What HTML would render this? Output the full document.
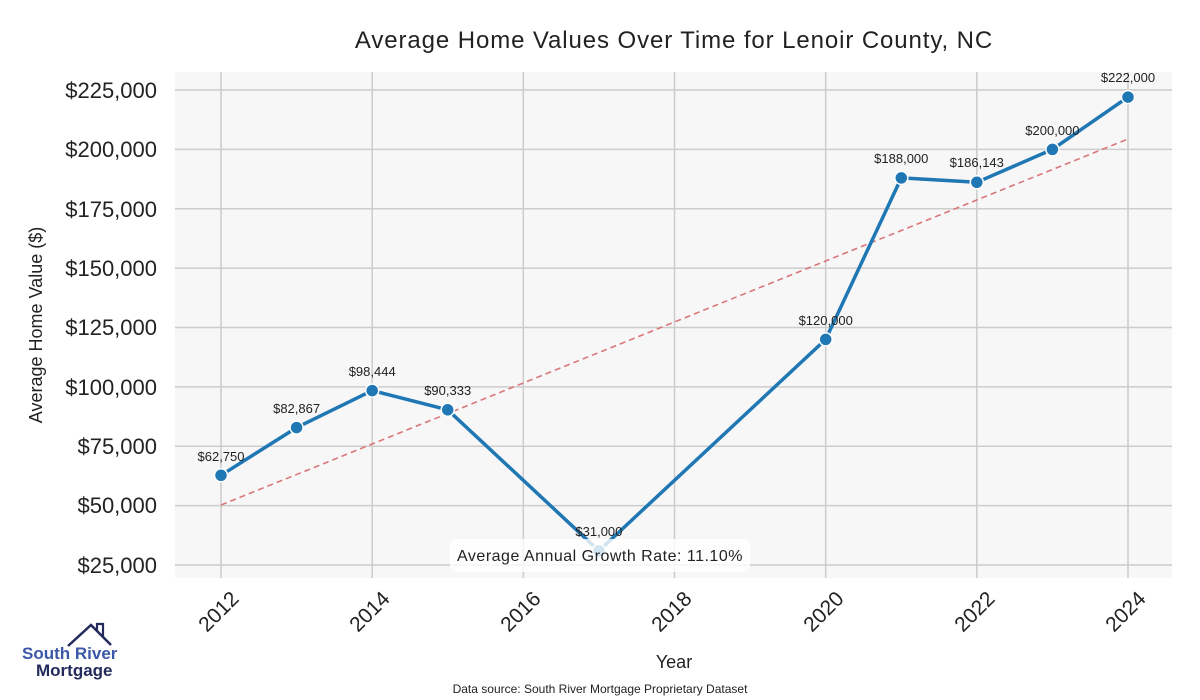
<!DOCTYPE html>
<html><head><meta charset="utf-8"><style>
html,body{margin:0;padding:0;background:#fff;}
svg{display:block;font-family:"Liberation Sans",sans-serif;}
</style></head><body>
<svg width="1200" height="700" viewBox="0 0 1200 700" xmlns="http://www.w3.org/2000/svg">
<rect x="0" y="0" width="1200" height="700" fill="#fff"/>
<text x="674" y="48" font-size="24" letter-spacing="0.9" fill="#222" text-anchor="middle">Average Home Values Over Time for Lenoir County, NC</text>
<rect x="175" y="72" width="997" height="506" fill="#f7f7f7"/>
<g stroke="#cccccc" stroke-width="1.5">
<line x1="175" x2="1172" y1="90" y2="90"/>
<line x1="175" x2="1172" y1="149.4" y2="149.4"/>
<line x1="175" x2="1172" y1="208.8" y2="208.8"/>
<line x1="175" x2="1172" y1="268.1" y2="268.1"/>
<line x1="175" x2="1172" y1="327.5" y2="327.5"/>
<line x1="175" x2="1172" y1="386.9" y2="386.9"/>
<line x1="175" x2="1172" y1="446.3" y2="446.3"/>
<line x1="175" x2="1172" y1="505.6" y2="505.6"/>
<line x1="175" x2="1172" y1="565" y2="565"/>
<line y1="72" y2="578" x1="221" x2="221"/>
<line y1="72" y2="578" x1="372.2" x2="372.2"/>
<line y1="72" y2="578" x1="523.3" x2="523.3"/>
<line y1="72" y2="578" x1="674.5" x2="674.5"/>
<line y1="72" y2="578" x1="825.7" x2="825.7"/>
<line y1="72" y2="578" x1="976.8" x2="976.8"/>
<line y1="72" y2="578" x1="1128" x2="1128"/>
</g>
<g font-size="22" fill="#222" text-anchor="end">
<text x="157" y="98">$225,000</text>
<text x="157" y="157">$200,000</text>
<text x="157" y="217">$175,000</text>
<text x="157" y="276">$150,000</text>
<text x="157" y="335">$125,000</text>
<text x="157" y="395">$100,000</text>
<text x="157" y="454">$75,000</text>
<text x="157" y="513">$50,000</text>
<text x="157" y="573">$25,000</text>
</g>
<g font-size="21" fill="#222" text-anchor="end">
<text transform="translate(240,600) rotate(-45)">2012</text>
<text transform="translate(391,600) rotate(-45)">2014</text>
<text transform="translate(542,600) rotate(-45)">2016</text>
<text transform="translate(693,600) rotate(-45)">2018</text>
<text transform="translate(845,600) rotate(-45)">2020</text>
<text transform="translate(996,600) rotate(-45)">2022</text>
<text transform="translate(1147,600) rotate(-45)">2024</text>
</g>
<text x="674" y="668" font-size="18" fill="#222" text-anchor="middle">Year</text>
<text transform="translate(42,325) rotate(-90)" font-size="18" fill="#222" text-anchor="middle">Average Home Value ($)</text>
<line x1="221" y1="505" x2="1128" y2="139" stroke="#d9777a" stroke-width="1.6" stroke-dasharray="6,4"/>
<polyline fill="none" stroke="#1f77b4" stroke-width="3.5" stroke-linejoin="round" points="221,475.3 296.6,427.6 372.2,390.6 447.7,409.8 598.9,550.8 825.7,339.4 901.3,177.9 976.8,182.3 1052.4,149.4 1128,97.1"/>
<g fill="#1f77b4" stroke="#fff" stroke-width="1.5">
<circle cx="221" cy="475.3" r="6.5"/><circle cx="296.6" cy="427.6" r="6.5"/><circle cx="372.2" cy="390.6" r="6.5"/><circle cx="447.7" cy="409.8" r="6.5"/><circle cx="598.9" cy="550.8" r="6.5"/><circle cx="825.7" cy="339.4" r="6.5"/><circle cx="901.3" cy="177.9" r="6.5"/><circle cx="976.8" cy="182.3" r="6.5"/><circle cx="1052.4" cy="149.4" r="6.5"/><circle cx="1128" cy="97.1" r="6.5"/>
</g>
<g font-size="13" fill="#222" text-anchor="middle">
<text x="221" y="461">$62,750</text>
<text x="296.6" y="413">$82,867</text>
<text x="372.2" y="376">$98,444</text>
<text x="447.7" y="395">$90,333</text>
<text x="598.9" y="536">$31,000</text>
<text x="825.7" y="325">$120,000</text>
<text x="901.3" y="163">$188,000</text>
<text x="976.8" y="167">$186,143</text>
<text x="1052.4" y="135">$200,000</text>
<text x="1128" y="82">$222,000</text>
</g>
<rect x="450" y="539" width="300" height="33" rx="7" fill="#ffffff" fill-opacity="0.8"/>
<text x="600" y="561" font-size="16" letter-spacing="0.5" fill="#222" text-anchor="middle">Average Annual Growth Rate: 11.10%</text>
<text x="600" y="693" font-size="12" fill="#222" text-anchor="middle">Data source: South River Mortgage Proprietary Dataset</text>
<polyline points="68,646 91,625 111,645" fill="none" stroke="#232a5c" stroke-width="2.5"/>
<polyline points="97,631 97,624 103,624 103,637" fill="none" stroke="#232a5c" stroke-width="2.2"/>
<text x="22" y="659" font-size="17" font-weight="bold" fill="#3b57a8">South River</text>
<text x="36" y="676" font-size="17" font-weight="bold" fill="#232a5c">Mortgage</text>
</svg>
</body></html>
